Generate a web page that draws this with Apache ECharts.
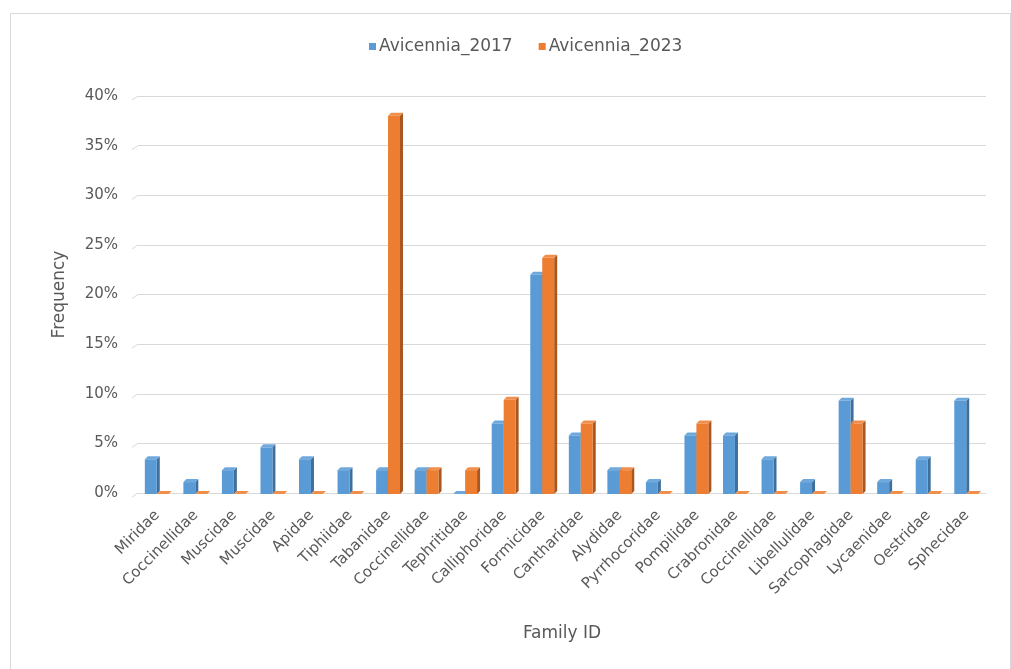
<!DOCTYPE html>
<html>
<head>
<meta charset="utf-8">
<script src="https://cdn.jsdelivr.net/npm/echarts@6/dist/echarts.min.js"></script>
<style>
html,body{margin:0;padding:0;background:#fff;}
#chart{width:1011px;height:669px;}
</style>
</head>
<body>
<div id="chart"></div>
<script>
const categories = ["Miridae","Coccinellidae","Muscidae","Muscidae","Apidae","Tiphiidae","Tabanidae","Coccinellidae","Tephritidae","Calliphoridae","Formicidae","Cantharidae","Alydidae","Pyrrhocoridae","Pompilidae","Crabronidae","Coccinellidae","Libellulidae","Sarcophagidae","Lycaenidae","Oestridae","Sphecidae"];
const avicennia2017 = [3.5,1.2,2.4,4.7,3.5,2.4,2.4,2.4,0,7.1,22.1,5.9,2.4,1.2,5.9,5.9,3.5,1.2,9.4,1.2,3.5,9.4];
const avicennia2023 = [0,0,0,0,0,0,38.1,2.4,2.4,9.5,23.8,7.1,2.4,0,7.1,0,0,0,7.1,0,0,0];
const seriesNames = ["Avicennia_2017","Avicennia_2023"];
const yTicks = [0,5,10,15,20,25,30,35,40];

const palette = [
  {front:'#5b9bd5', side:'#3f6f9c', top:'#6fa8dc'},
  {front:'#ed7d31', side:'#a9561f', top:'#f08f4c'}
];

function makeRender(si){
  return function(params, api){
    const x = api.value(0), v = api.value(1);
    const base = api.coord([x, 0]);
    const top = api.coord([x, v]);
    const cw = api.size([1,0])[0];
    const bw = cw * 0.31;
    const d = 3;
    const left = base[0] - bw - 0.5 + si*bw;
    const right = left + bw;
    const yb = base[1] + 1, yt = top[1] + 1;
    const c = palette[si];
    const children = [];
    children.push({type:'polygon', shape:{points:[[right,yt],[right+d,yt-d],[right+d,yb-d],[right,yb]]}, style:{fill:c.side}});
    children.push({type:'polygon', shape:{points:[[left,yt],[left+d,yt-d],[right+d,yt-d],[right,yt]]}, style:{fill:c.top}});
    if (yb - yt > 0) children.push({type:'rect', shape:{x:left, y:yt, width:bw, height:yb-yt}, style:{fill:c.front}});
    return {type:'group', children:children};
  };
}

// small perspective slant at the left end of each gridline
function renderSlant(params, api){
  const y = api.coord([0, api.value(0)])[1];
  const x0 = params.coordSys.x;
  return {type:'line', shape:{x1:x0-6, y1:y+4, x2:x0, y2:y}, style:{stroke:'#d9d9d9', lineWidth:1}};
}

const chart = echarts.init(document.getElementById('chart'));
const font = 'DejaVu Sans';
chart.setOption({
  backgroundColor:'#fff',
  animation:false,
  graphic:[{type:'rect', left:8, top:11, shape:{width:1000, height:656}, style:{fill:'none', stroke:'#d9d9d9', lineWidth:1}, silent:true}],
  legend:{
    top:33, left:364,
    itemWidth:7, itemHeight:7, itemGap:26, icon:'rect',
    textStyle:{color:'#595959', fontSize:17, fontFamily:font, padding:[0,0,0,-2]},
    data:seriesNames
  },
  grid:{left:138, right:25, top:96, bottom:176},
  xAxis:{
    type:'category', data:categories,
    name:'Family ID', nameLocation:'middle', nameGap:132,
    nameTextStyle:{color:'#595959', fontSize:17, fontFamily:font},
    axisLine:{lineStyle:{color:'#d9d9d9'}}, axisTick:{show:false},
    axisLabel:{rotate:45, interval:0, color:'#595959', fontSize:15, fontFamily:font, margin:20}
  },
  yAxis:{
    type:'value', min:0, max:40, interval:5,
    name:'Frequency', nameLocation:'middle', nameGap:70, nameRotate:90,
    nameTextStyle:{color:'#595959', fontSize:17, fontFamily:font},
    axisLine:{show:false}, axisTick:{show:false},
    splitLine:{lineStyle:{color:'#d9d9d9', width:1}},
    axisLabel:{formatter:function(v){return yTicks.indexOf(v)>=0? v+'%':'';}, color:'#595959', fontSize:15, fontFamily:font, margin:20}
  },
  series:[
    {name:seriesNames[0], type:'custom', renderItem:makeRender(0), itemStyle:{color:palette[0].front}, encode:{x:0,y:1}, clip:false,
     data:avicennia2017.map((v,i)=>[i,v])},
    {name:seriesNames[1], type:'custom', renderItem:makeRender(1), itemStyle:{color:palette[1].front}, encode:{x:0,y:1}, clip:false,
     data:avicennia2023.map((v,i)=>[i,v])},
    {type:'custom', renderItem:renderSlant, silent:true, clip:false, encode:{y:0}, legendHoverLink:false,
     data:yTicks.map(v=>[v]), tooltip:{show:false}}
  ]
});
</script>
</body>
</html>
